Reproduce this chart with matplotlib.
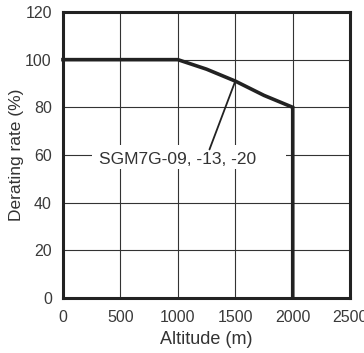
import matplotlib
matplotlib.use("Agg")
import matplotlib.pyplot as plt
from matplotlib.patches import Rectangle

altitude = [0, 1000, 1250, 1500, 1750, 2000, 2000]
derating = [100, 100, 96, 91, 85, 80, 0]
label_text = "SGM7G-09, -13, -20"
xticks = [0, 500, 1000, 1500, 2000, 2500]
yticks = [0, 20, 40, 60, 80, 100, 120]

plt.rcParams['font.family'] = ['Liberation Sans', 'DejaVu Sans']
fig = plt.figure(figsize=(3.64, 3.53), dpi=100)
ax = fig.add_axes([0.173, 0.156, 0.789, 0.81])
ax.set_xlim(0, 2500)
ax.set_ylim(0, 120)
ax.set_xticks(xticks)
ax.set_yticks(yticks)
ax.grid(True, color='#333333', linewidth=0.8)
ax.set_axisbelow(True)
for s in ax.spines.values():
    s.set_linewidth(2.2)
    s.set_color('#222222')
    s.set_zorder(5)
ax.tick_params(length=0, labelsize=11.5, labelcolor='#3a3a3a')
ax.tick_params(axis='y', pad=8)
ax.tick_params(axis='x', pad=9)
# white box behind label, interrupting the grid
ax.add_patch(Rectangle((255, 54.3), 1690, 9.8, facecolor='white', edgecolor='none', zorder=1.5))
ax.plot(altitude, derating, color='#222222', linewidth=2.6, solid_joinstyle='miter', clip_on=False, zorder=3)
ax.annotate(label_text, xy=(1500, 91), xytext=(1000, 58.0),
            fontsize=12.5, color='#333333', ha='center', va='center', zorder=2,
            arrowprops=dict(arrowstyle='-', color='#222222', linewidth=1.3,
                            shrinkA=0, shrinkB=0, relpos=(0.70, 1.15)))
ax.set_xlabel("Altitude (m)", fontsize=13, color='#333333', labelpad=4)
ax.set_ylabel("Derating rate (%)", fontsize=12.5, color='#333333', labelpad=1)
fig.savefig("out.png", dpi=100)
